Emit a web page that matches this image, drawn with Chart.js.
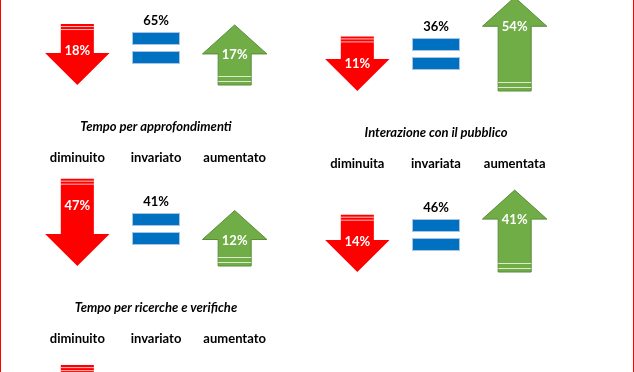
<!DOCTYPE html>
<html><head><meta charset="utf-8">
<script src="https://cdn.jsdelivr.net/npm/chart.js@4.4.0/dist/chart.umd.min.js"></script>
<style>
html,body{margin:0;padding:0;background:#fff;overflow:hidden;}
#page{position:relative;width:634px;height:372px;overflow:hidden;background:#fff;}
#page canvas{position:absolute;}
.edge{position:absolute;top:0;width:1px;height:372px;background:#FF0000;z-index:5;}
</style></head><body>
<div id="page">
<canvas id="cLA" width="300" height="181" style="left:0;top:-69px"></canvas>
<canvas id="cLB" width="300" height="181" style="left:0;top:112px"></canvas>
<canvas id="cLC" width="300" height="181" style="left:0;top:293px"></canvas>
<canvas id="cRA" width="300" height="181" style="left:280px;top:-63px"></canvas>
<canvas id="cRB" width="300" height="181" style="left:280px;top:118px"></canvas>
<div class="edge" style="left:0"></div><div class="edge" style="left:633px"></div>
</div>
<script>
// ---- data ----
const categoriesM = ['diminuito', 'invariato', 'aumentato'];
const categoriesF = ['diminuita', 'invariata', 'aumentata'];
const titleLA = '';
const titleLB = 'Tempo per approfondimenti';
const titleLC = 'Tempo per ricerche e verifiche';
const titleRA = '';
const titleRB = 'Interazione con il pubblico';
const valuesLA = [18, 65, 17];
const valuesLB = [47, 41, 12];
const valuesLC = [41, 45, 14];
const valuesRA = [11, 36, 54];
const valuesRB = [14, 46, 41];

const FONT = 'Lato, "Open Sans", sans-serif';
const RED = '#FF0000', BLUE = '#0070C0', GREEN = '#70AD47';

function pctLabel(ctx, text, x, y, color) {
  ctx.fillStyle = color;
  ctx.font = 'bold 13px ' + FONT;
  ctx.textAlign = 'center';
  ctx.textBaseline = 'middle';
  ctx.fillText(text, x, y);
}
function stripe(ctx, x0, x1, y) {
  ctx.fillStyle = 'rgba(255,255,255,0.75)';
  ctx.fillRect(x0, y, x1 - x0, 1);
}
function drawDown(ctx, x, top, base, w, v) {
  const hw = w * 1.95, hh = 32;
  ctx.fillStyle = RED;
  ctx.beginPath();
  ctx.moveTo(x - w / 2, top);
  ctx.lineTo(x + w / 2, top);
  ctx.lineTo(x + w / 2, base - hh);
  ctx.lineTo(x + hw / 2, base - hh);
  ctx.lineTo(x, base);
  ctx.lineTo(x - hw / 2, base - hh);
  ctx.lineTo(x - w / 2, base - hh);
  ctx.closePath();
  ctx.fill();
  stripe(ctx, x - w / 2, x + w / 2, top + 2);
  stripe(ctx, x - w / 2, x + w / 2, top + 5);
  pctLabel(ctx, v + '%', x, top + 27, '#fff');
}
function drawUp(ctx, x, top, base, w, v) {
  const hw = w * 1.95, hh = 29;
  ctx.fillStyle = GREEN;
  ctx.strokeStyle = '#5B8C3A';
  ctx.lineWidth = 1;
  ctx.beginPath();
  ctx.moveTo(x, top);
  ctx.lineTo(x + hw / 2, top + hh);
  ctx.lineTo(x + w / 2, top + hh);
  ctx.lineTo(x + w / 2, base);
  ctx.lineTo(x - w / 2, base);
  ctx.lineTo(x - w / 2, top + hh);
  ctx.lineTo(x - hw / 2, top + hh);
  ctx.closePath();
  ctx.fill();
  ctx.stroke();
  stripe(ctx, x - w / 2, x + w / 2, base - 9);
  stripe(ctx, x - w / 2, x + w / 2, base - 4);
  pctLabel(ctx, v + '%', x, top + 30, '#fff');
}
function drawEqual(ctx, x, base, v) {
  const w = 48, h = 13;
  ctx.fillStyle = BLUE;
  ctx.strokeStyle = '#A9C4E4';
  ctx.lineWidth = 1;
  [[base - 53, h], [base - 34, h]].forEach(([yy, hh]) => {
    ctx.fillRect(x - w / 2, yy, w, hh);
    ctx.strokeRect(x - w / 2 + 0.5, yy + 0.5, w - 1, hh - 1);
  });
  pctLabel(ctx, v + '%', x, base - 64, '#000');
}

const arrowPlugin = {
  id: 'arrows',
  afterDatasetsDraw(chart) {
    const ctx = chart.ctx;
    const meta = chart.getDatasetMeta(0);
    const vals = chart.data.datasets[0].data;
    meta.data.forEach((el, i) => {
      const p = el.getProps(['x', 'y', 'base', 'width'], true);
      ctx.save();
      if (i === 0) drawDown(ctx, p.x, p.y, p.base, p.width, vals[i]);
      else if (i === 1) drawEqual(ctx, p.x, p.base, vals[i]);
      else drawUp(ctx, p.x, p.y, p.base, p.width, vals[i]);
      ctx.restore();
    });
  }
};

function makeChart(id, title, labels, values) {
  return new Chart(document.getElementById(id), {
    type: 'bar',
    data: {
      labels: labels,
      datasets: [{
        data: values, base: -49,
        backgroundColor: 'rgba(0,0,0,0)', borderWidth: 0,
        barPercentage: 0.42, categoryPercentage: 1
      }]
    },
    options: {
      responsive: false, animation: false, events: [],
      layout: { padding: { left: 38, right: 26, top: 0, bottom: 27 } },
      plugins: {
        legend: { display: false },
        tooltip: { enabled: false },
        title: {
          display: true, text: title, color: '#000',
          font: { family: FONT, size: 13, weight: 'bold', style: 'italic', lineHeight: 1.2 },
          padding: { top: 7, bottom: 7 }
        }
      },
      scales: {
        x: {
          position: 'top',
          grid: { display: false, drawTicks: false },
          border: { display: false },
          ticks: { color: '#000', padding: 8, font: { family: FONT, size: 13, weight: 'bold' } }
        },
        y: { display: false, min: -49, max: 53 }
      }
    },
    plugins: [arrowPlugin]
  });
}

makeChart('cLA', titleLA, categoriesM, valuesLA);
makeChart('cLB', titleLB, categoriesM, valuesLB);
makeChart('cLC', titleLC, categoriesM, valuesLC);
makeChart('cRA', titleRA, categoriesF, valuesRA);
makeChart('cRB', titleRB, categoriesF, valuesRB);
</script>
</body></html>
